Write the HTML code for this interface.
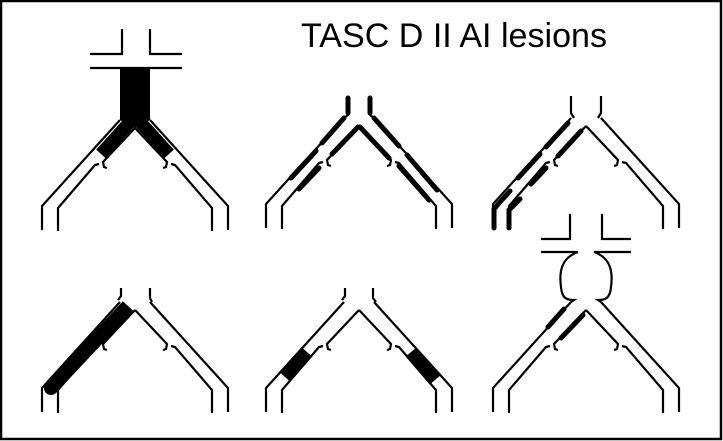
<!DOCTYPE html>
<html><head><meta charset="utf-8"><style>
html,body{margin:0;padding:0;background:#fff;}
svg{display:block;}
</style></head><body>
<svg width="723" height="441" viewBox="0 0 723 441" xmlns="http://www.w3.org/2000/svg">
<rect x="1" y="1" width="720" height="438" fill="#fff" stroke="#000" stroke-width="2.5"/>
<text x="301" y="47" font-family="Liberation Sans, sans-serif" font-size="34" textLength="306" lengthAdjust="spacingAndGlyphs" fill="#000">TASC D II AI lesions</text>
<defs>
<g id="legs" fill="none" stroke="#000" stroke-width="2.2" stroke-linejoin="miter">
<path d="M-15,0 L-93,86 L-93,110 M15,0 L93,86 L93,110"/>
<path d="M0,8 L-32,42 l1,5 l3,1 M-36,44 l-4,1 L-77,88 L-77,111"/>
<path d="M0,8 L32,42 l-1,5 l-3,1 M36,44 l4,1 L77,88 L77,111"/>
</g>
</defs>

<!-- top-left -->
<g transform="translate(135,120)">
<use href="#legs"/>
<g fill="none" stroke="#000" stroke-width="2.2">
<path d="M-45,-52 L47,-52"/>
<path d="M-45,-66 L-13,-66 L-13,-91 M47,-66 L15,-66 L15,-91"/>
</g>
<polygon points="-15,-52 15,-52 15,0 0,8 -15,0" fill="#000"/>
<path d="M-6,3 L-34,34 M6,3 L34,34" stroke="#000" stroke-width="13" fill="none"/>
</g>

<!-- top-middle -->
<g transform="translate(359,118)">
<use href="#legs"/>
<g fill="none" stroke="#000" stroke-width="2.2"><path d="M-11,-22 L-11,-3 L-15,0 M11,-22 L11,-3 L15,0"/></g>
<g fill="none" stroke="#000" stroke-width="5" stroke-linecap="round">
<path d="M-11,-20 L-11,-5 M11,-20 L11,-5"/>
<path d="M-15,0 L-37,25 M-43,33 L-68,60 M-1,9 L-27,36 M-40,50 L-60,71"/>
<path d="M15,0 L40,28 M48,37 L78,72 M1,9 L30,40 M40,48 L70,82"/>
</g>
</g>

<!-- top-right -->
<g transform="translate(586,118)">
<use href="#legs"/>
<g fill="none" stroke="#000" stroke-width="2.2"><path d="M-15,-22 L-15,-5 L-12,0 M15,-22 L15,-5 L12,0"/></g>
<g fill="none" stroke="#000" stroke-width="5" stroke-linecap="round">
<path d="M-18,5 L-40,29 M-46,36 L-68,60 M-5,13 L-28,38 M-40,50 L-55,66"/>
<path d="M-76,73 L-86,84 L-92,91 L-92,110 M-66,81 L-77,92 L-77,110"/>
</g>
</g>

<!-- bottom-left -->
<g transform="translate(135,302)">
<use href="#legs"/>
<g fill="none" stroke="#000" stroke-width="2.2"><path d="M-14,-14 L-14,-6 L-17,-2 M15,-14 L15,-4 L17,0"/></g>
<path d="M-7,4 L-84,86" stroke="#000" stroke-width="14" stroke-linecap="butt" fill="none"/>
<circle cx="-84" cy="86" r="7" fill="#000"/>
</g>

<!-- bottom-middle -->
<g transform="translate(359,302)">
<use href="#legs"/>
<g fill="none" stroke="#000" stroke-width="2.2"><path d="M-14,-14 L-14,-6 L-17,-2 M14,-14 L14,-4 L17,0"/></g>
<path d="M-52,50 L-74,75 M52,50 L76,78" stroke="#000" stroke-width="14" fill="none"/>
</g>

<!-- bottom-right -->
<g transform="translate(586,302)">
<use href="#legs"/>
<g fill="none" stroke="#000" stroke-width="2.2">
<path d="M-45,-50 L-8,-50 M8,-50 L45,-50"/>
<path d="M-45,-63 L-16,-63 L-16,-88 M45,-63 L16,-63 L16,-88"/>
<path d="M-8,-50 C-25,-44 -27,-30 -25,-15 C-24,-4 -20,-2 -12,-2 L-15,0"/>
<path d="M8,-50 C25,-44 27,-30 25,-15 C24,-4 20,-2 12,-2 L15,0"/>
</g>
<g fill="none" stroke="#000" stroke-width="5" stroke-linecap="round">
<path d="M-22,7 L-38,25 M-3,13 L-25,36"/>
</g>
</g>
</svg>
</body></html>
